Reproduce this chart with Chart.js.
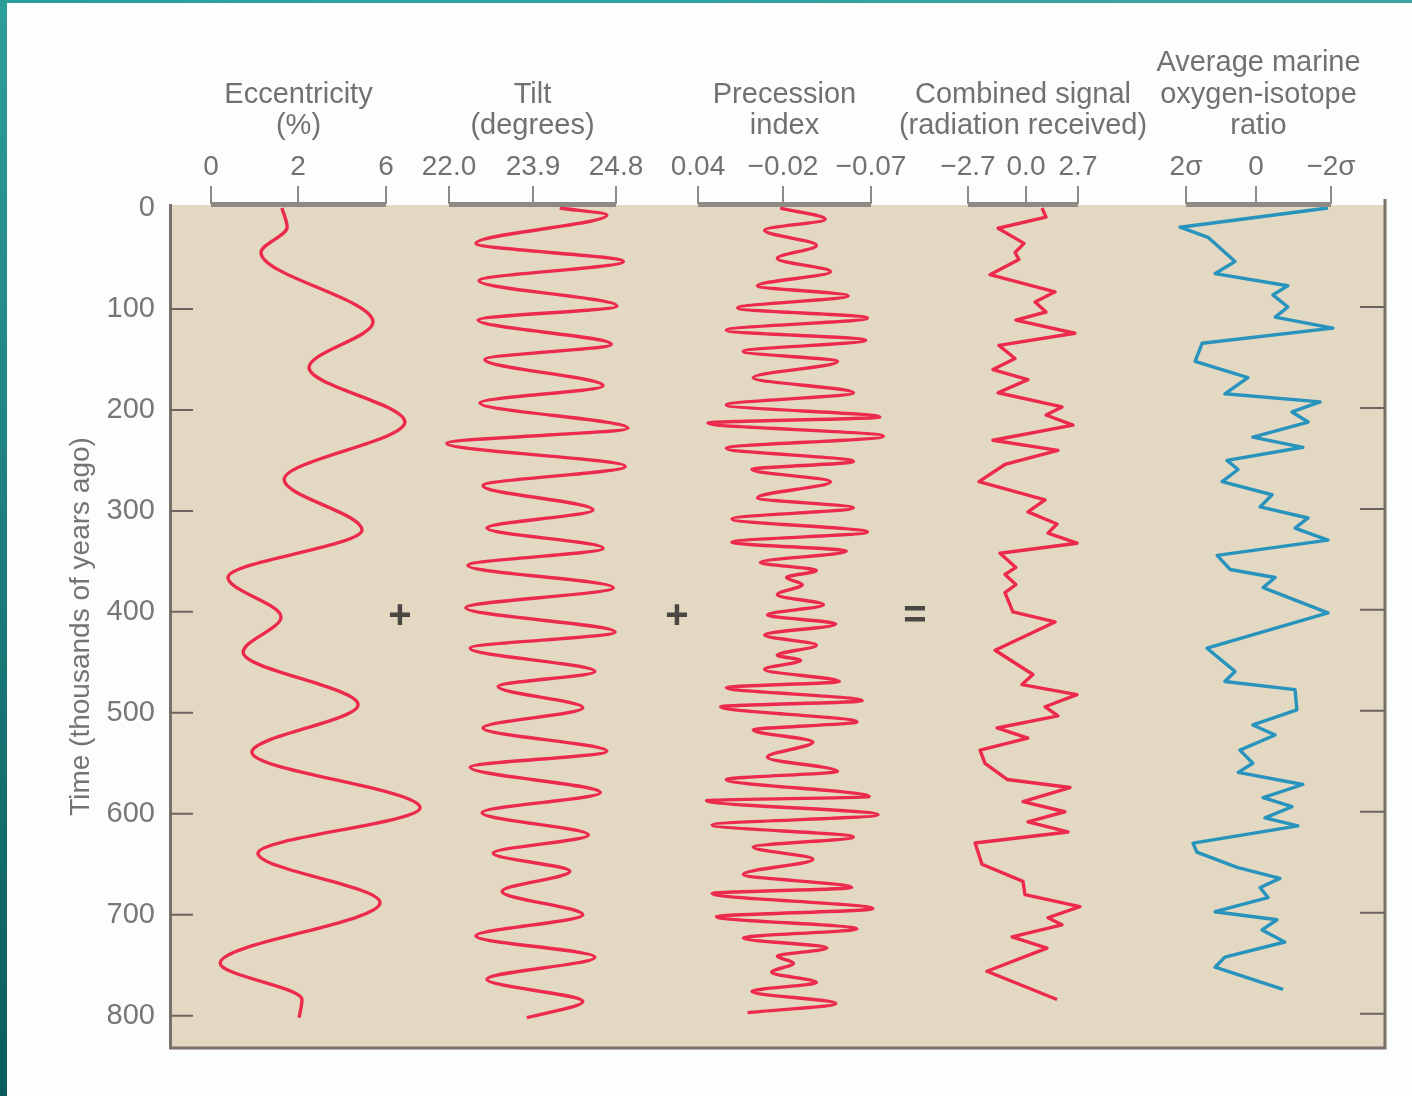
<!DOCTYPE html>
<html>
<head>
<meta charset="utf-8">
<title>Orbital cycles and oxygen-isotope ratio</title>
<script src="https://cdn.jsdelivr.net/npm/chart.js@4.4.1/dist/chart.umd.min.js"></script>
<style>
    html, body { margin: 0; padding: 0; background: #fcfdfd; }
    #wrap { position: relative; width: 1412px; height: 1096px; overflow: hidden; background: #fcfdfd; }
    #wrap canvas { position: absolute; left: 0; top: 0; }
    #edgeLeft { position: absolute; left: 0; top: 0; width: 7px; height: 1096px; background: linear-gradient(#2e9e9a, #0a5c5e); }
    #edgeTop { position: absolute; left: 0; top: 0; width: 1412px; height: 3px; background: linear-gradient(to right, #2e9e9a, #3aa6a2); }
</style>
</head>
<body>
<div id="wrap">
    <canvas id="chart" width="1412" height="1096"></canvas>
    <div id="edgeLeft"></div>
    <div id="edgeTop"></div>
</div>
<script>
// Time is in thousands of years ago (vertical axis)
var timeTicks = [0, 100, 200, 300, 400, 500, 600, 700, 800];

// Eccentricity (%)
var eccTime = [0, 19, 44, 113, 158, 212, 269, 319, 366, 405, 440, 492, 539, 594, 639, 688, 748, 784, 802];
var eccValue = [1.63, 1.75, 1.15, 5.41, 2.50, 6.86, 1.68, 4.91, 0.39, 1.61, 0.74, 4.73, 0.94, 7.55, 1.08, 5.73, 0.21, 2.18, 2.05];
var eccTicks = [0, 2, 6];
var eccTickLabels = ['0', '2', '6'];

// Tilt (degrees)
var tiltTime = [0, 7, 35, 53, 72, 97, 111, 135, 150, 176, 193, 218, 233, 256, 275, 299, 317, 337, 354, 376, 396,
    420, 436, 459, 474, 495, 515, 538, 554, 579, 599, 621, 639, 657, 677, 700, 721, 742, 764, 786, 802];
var tiltValue = [24.19, 24.70, 22.61, 24.88, 22.68, 24.81, 22.66, 24.75, 22.81, 24.66, 22.70, 24.93, 21.95, 24.90, 22.77,
    24.55, 22.86, 24.66, 22.43, 24.77, 22.38, 24.79, 22.48, 24.57, 23.11, 24.44, 22.77, 24.70, 22.48, 24.63, 22.75,
    24.50, 23.00, 24.30, 23.20, 24.44, 22.61, 24.57, 22.86, 24.44, 23.76];
var tiltTicks = [22.0, 23.9, 24.8];
var tiltTickLabels = ['22.0', '23.9', '24.8'];

// Precession index
var precTime = [0, 11, 22, 37, 50, 63, 77, 87, 99, 109, 121, 131, 142, 152, 168, 183, 195, 207, 213, 226,
    238, 251, 259, 271, 287, 297, 308, 321, 331, 340, 351, 359, 366, 373, 383, 393, 403, 412, 423, 433,
    443, 448, 457, 469, 475, 488, 494, 509, 517, 529, 544, 558, 566, 583, 587, 601, 611, 623, 633, 645,
    660, 673, 679, 694, 702, 714, 723, 733, 741, 748, 757, 767, 776, 788, 797];
var precValue = [-0.018, -0.044, -0.007, -0.039, -0.016, -0.047, -0.002, -0.057, 0.012, -0.068,
    0.020, -0.067, 0.008, -0.051, 0.001, -0.060, 0.020, -0.075, 0.033, -0.077,
    0.020, -0.060, 0.002, -0.047, -0.002, -0.060, 0.016, -0.068, 0.016, -0.056,
    -0.004, -0.039, -0.022, -0.031, -0.016, -0.043, -0.009, -0.050, -0.007, -0.039,
    -0.016, -0.030, -0.007, -0.052, 0.020, -0.065, 0.024, -0.062, 0.001, -0.037,
    -0.009, -0.051, 0.020, -0.069, 0.034, -0.074, 0.030, -0.060, 0.001, -0.037,
    0.008, -0.059, 0.030, -0.071, 0.027, -0.062, 0.008, -0.045, -0.016, -0.026,
    -0.012, -0.039, 0.002, -0.050, 0.005];
var precTicks = [0.04, -0.02, -0.07];
var precTickLabels = ['0.04', '\u22120.02', '\u22120.07'];

// Combined signal (radiation received)
var combTime = [0, 9, 20, 35, 44, 51, 66, 83, 93, 103, 111, 124, 136, 149, 160, 170, 183, 197, 205, 215,
    230, 240, 254, 271, 289, 301, 313, 322, 332, 342, 356, 363, 373, 381, 400, 410, 438, 462, 472, 482,
    494, 503, 515, 525, 537, 550, 566, 574, 588, 598, 608, 618, 629, 650, 667, 680, 692, 703, 710, 722,
    733, 756, 784];
var combValue = [0.83, 1.04, -1.30, -0.09, -0.51, -0.33, -1.68, 1.51, 0.47, 1.04,
    -0.47, 2.54, -1.26, -0.51, -1.54, 0.10, -1.30, 1.87, 1.04, 2.44,
    -1.54, 1.66, -0.98, -2.19, 0.99, 0.10, 1.61, 1.14, 2.65, -1.21,
    -0.47, -0.98, -0.47, -0.98, -0.61, 1.51, -1.44, 0.36, -0.19, 2.65,
    0.99, 1.66, -1.35, 0.10, -2.14, -1.91, -0.88, 2.28, -0.14, 2.02,
    0.10, 2.18, -2.37, -2.05, -0.14, -0.05, 2.80, 1.14, 1.87, -0.65,
    1.09, -1.82, 1.61];
var combTicks = [-2.7, 0.0, 2.7];
var combTickLabels = ['\u22122.7', '0.0', '2.7'];

// Average marine oxygen-isotope ratio (sigma units)
var isoTime = [0, 19, 29, 53, 65, 77, 86, 98, 108, 119, 134, 152, 168, 184, 192, 202, 212, 227, 237, 250,
    259, 271, 284, 296, 307, 317, 329, 344, 358, 366, 376, 401, 436, 459, 469, 477, 497, 512, 522, 537,
    550, 559, 571, 584, 593, 604, 612, 629, 638, 653, 664, 673, 683, 697, 705, 715, 727, 742, 752, 774];
var isoValue = [-1.92, 2.17, 1.37, 0.60, 1.17, -0.85, -0.45, -0.85, -0.51, -2.05,
    1.54, 1.74, 0.23, 0.89, -1.71, -0.96, -1.39, 0.09, -1.25, 0.83,
    0.51, 0.97, -0.43, -0.11, -1.39, -1.04, -1.92, 1.11, 0.74, -0.51,
    -0.19, -1.92, 1.40, 0.60, 0.89, -1.04, -1.09, 0.09, -0.51, 0.46,
    0.09, 0.51, -1.25, -0.19, -0.96, -0.24, -1.12, 1.80, 1.69, 0.54,
    -0.64, -0.11, -0.32, 1.17, -0.56, -0.16, -0.77, 0.89, 1.17, -0.72];
var isoTicks = [2, 0, -2];
var isoTickLabels = ['2\u03c3', '0', '\u22122\u03c3'];

// ---- layout ----
var AREA = { left: 170, right: 1385, top: 205, bottom: 1048 };
// where each printed tick of a panel sits across the figure (the printed axes are not linear)
var panelTickPx = {
    ecc: [211, 298, 386],
    tilt: [449, 533, 616],
    prec: [698, 783, 871],
    comb: [968, 1026, 1078],
    iso: [1186, 1256, 1331]
};
var FONT = "'Liberation Sans', Arial, sans-serif";
var RED = '#ec2a4c';
var BLUE = '#2894be';
var FRAME = '#7a716a';

var panels = [
    { id: 'ecc', title: ['Eccentricity', '(%)'], ticks: eccTicks, labels: eccTickLabels, time: eccTime, value: eccValue, color: RED, smooth: true },
    { id: 'tilt', title: ['Tilt', '(degrees)'], ticks: tiltTicks, labels: tiltTickLabels, time: tiltTime, value: tiltValue, color: RED, smooth: true },
    { id: 'prec', title: ['Precession', 'index'], ticks: precTicks, labels: precTickLabels, time: precTime, value: precValue, color: RED, smooth: true },
    { id: 'comb', title: ['Combined signal', '(radiation received)'], ticks: combTicks, labels: combTickLabels, time: combTime, value: combValue, color: RED, smooth: false },
    { id: 'iso', title: ['Average marine', 'oxygen-isotope', 'ratio'], ticks: isoTicks, labels: isoTickLabels, time: isoTime, value: isoValue, color: BLUE, smooth: false }
];

// operators between the panels: [text, fraction across plot, time]
var operators = [['+', 0.1893, 405], ['+', 0.4173, 405], ['=', 0.6132, 405]];

// A linear scale that follows the printed tick positions piece by piece
class PrintedScale extends Chart.LinearScale {
    getPixelForValue(value) {
        if (value === null || value === undefined || isNaN(value)) return NaN;
        var stops = this.options.stops;
        var n = stops.length;
        var dir = stops[n - 1][0] > stops[0][0] ? 1 : -1;
        var i = 1;
        while (i < n - 1 && value * dir > stops[i][0] * dir) i++;
        var a = stops[i - 1], b = stops[i];
        var frac = a[1] + (value - a[0]) * (b[1] - a[1]) / (b[0] - a[0]);
        return this.getPixelForDecimal(frac);
    }
    getValueForPixel(pixel) {
        var stops = this.options.stops;
        var n = stops.length;
        var frac = this.getDecimalForPixel(pixel);
        var i = 1;
        while (i < n - 1 && frac > stops[i][1]) i++;
        var a = stops[i - 1], b = stops[i];
        return a[0] + (frac - a[1]) * (b[0] - a[0]) / (b[1] - a[1]);
    }
}
PrintedScale.id = 'printed';
PrintedScale.defaults = Chart.LinearScale.defaults;
Chart.register(PrintedScale);

var areaWidth = AREA.right - AREA.left;
var scales = {
    y: {
        type: 'linear',
        position: 'left',
        reverse: true,
        min: -3,
        max: 832,
        afterBuildTicks: function (scale) {
            scale.ticks = timeTicks.map(function (v) { return { value: v }; });
        },
        afterFit: function (scale) { scale.width = AREA.left - 64; },
        grid: { display: false, drawTicks: false },
        border: { display: true, color: FRAME, width: 3 },
        ticks: { color: '#777777', font: { family: FONT, size: 29 }, padding: 15 },
        title: {
            display: true,
            text: 'Time (thousands of years ago)',
            color: '#747474',
            font: { family: FONT, size: 28 },
            padding: { top: 0, bottom: 0 }
        }
    }
};
panels.forEach(function (p) {
    scales[p.id] = {
        type: 'printed',
        axis: 'x',
        position: 'top',
        display: false,
        stops: p.ticks.map(function (v, i) {
            return [v, (panelTickPx[p.id][i] - AREA.left) / areaWidth];
        })
    };
});

var datasets = panels.map(function (p) {
    return {
        label: p.title.join(' '),
        data: p.time.map(function (t, i) { return { x: p.value[i], y: t }; }),
        xAxisID: p.id,
        yAxisID: 'y',
        borderColor: p.color,
        borderWidth: 3.4,
        pointRadius: 0,
        fill: false,
        tension: 0,
        cubicInterpolationMode: p.smooth ? 'monotone' : 'default',
        borderJoinStyle: 'round'
    };
});

var figureDecor = {
    id: 'figureDecor',
    beforeDraw: function (chart) {
        var ctx = chart.ctx;
        var a = chart.chartArea;
        ctx.save();
        ctx.fillStyle = '#e3d8c1';
        ctx.fillRect(a.left, a.top, a.right - a.left, a.bottom - a.top);
        ctx.restore();
    },
    afterDraw: function (chart) {
        var ctx = chart.ctx;
        var a = chart.chartArea;
        var y = chart.scales.y;
        ctx.save();

        // right and bottom frame
        ctx.strokeStyle = FRAME;
        ctx.lineWidth = 3;
        ctx.beginPath();
        ctx.moveTo(a.right, a.top - 6);
        ctx.lineTo(a.right, a.bottom);
        ctx.lineTo(a.left - 1, a.bottom);
        ctx.stroke();

        // tick marks inside the frame on both sides
        ctx.strokeStyle = '#6c655f';
        ctx.lineWidth = 2;
        timeTicks.forEach(function (t) {
            if (t === 0) return;
            var py = y.getPixelForValue(t);
            ctx.beginPath();
            ctx.moveTo(a.left, py);
            ctx.lineTo(a.left + 23, py);
            ctx.moveTo(a.right - 25, py - 2);
            ctx.lineTo(a.right, py - 2);
            ctx.stroke();
        });

        // top brackets, tick labels and titles of each panel
        panels.forEach(function (p) {
            var s = chart.scales[p.id];
            var px = p.ticks.map(function (v) { return s.getPixelForValue(v); });
            var x0 = Math.min.apply(null, px), x1 = Math.max.apply(null, px);
            ctx.fillStyle = '#8e8984';
            ctx.fillRect(x0, a.top - 3, x1 - x0, 5);
            ctx.strokeStyle = '#8e8984';
            ctx.lineWidth = 2;
            px.forEach(function (x) {
                ctx.beginPath();
                ctx.moveTo(x, a.top - 19);
                ctx.lineTo(x, a.top - 1);
                ctx.stroke();
            });

            ctx.fillStyle = '#717171';
            ctx.font = '28px ' + FONT;
            ctx.textAlign = 'center';
            ctx.textBaseline = 'middle';
            px.forEach(function (x, i) {
                ctx.fillText(p.labels[i], x, a.top - 38);
            });

            ctx.font = '29px ' + FONT;
            var cx = (x0 + x1) / 2;
            var n = p.title.length;
            p.title.forEach(function (line, i) {
                ctx.fillText(line, cx, a.top - 79 - (n - 1 - i) * 31.5);
            });
        });

        // + + = between the panels
        ctx.fillStyle = '#4a4745';
        ctx.font = 'bold 40px ' + FONT;
        ctx.textAlign = 'center';
        ctx.textBaseline = 'middle';
        operators.forEach(function (op) {
            ctx.fillText(op[0], a.left + op[1] * (a.right - a.left), y.getPixelForValue(op[2]));
        });
        ctx.restore();
    }
};

new Chart(document.getElementById('chart'), {
    type: 'line',
    data: { datasets: datasets },
    options: {
        indexAxis: 'y',
        responsive: false,
        animation: false,
        events: [],
        layout: {
            padding: { left: 64, right: 1412 - AREA.right, top: AREA.top, bottom: 1096 - AREA.bottom }
        },
        scales: scales,
        plugins: {
            legend: { display: false },
            tooltip: { enabled: false }
        }
    },
    plugins: [figureDecor]
});
</script>
</body>
</html>
